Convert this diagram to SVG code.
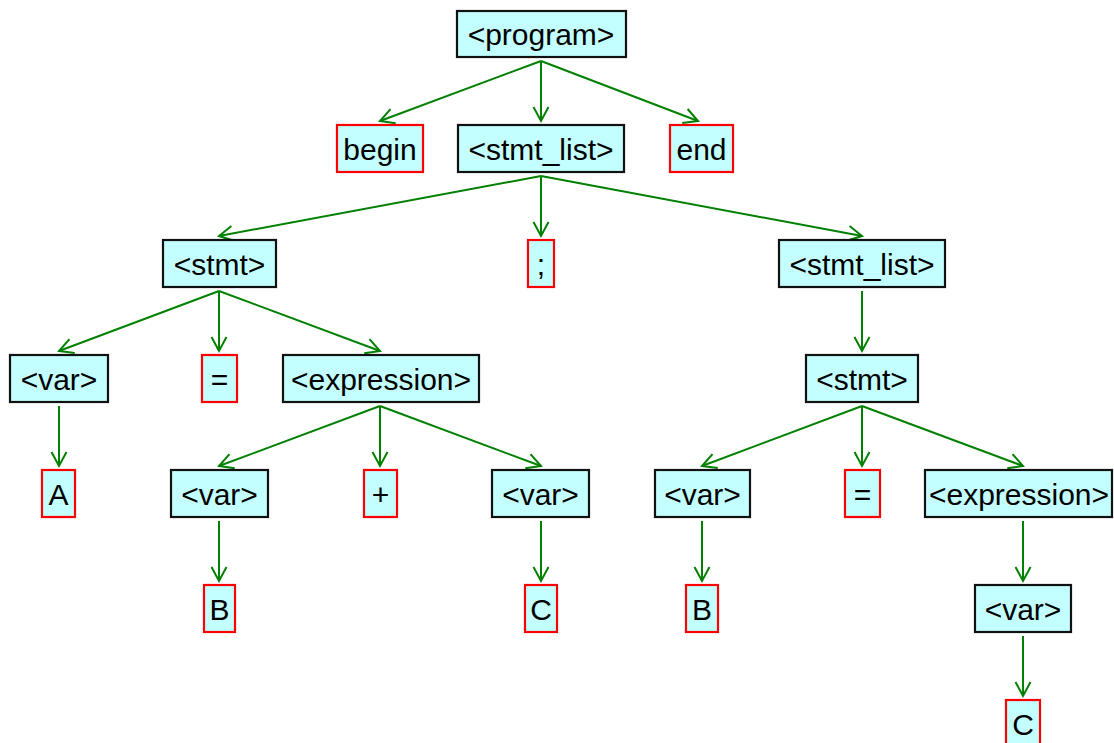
<svg xmlns="http://www.w3.org/2000/svg" width="1114" height="743" viewBox="0 0 1114 743">
  <style>
    .box rect { fill: #c4ffff; stroke-width: 2.2; }
    .nt rect { stroke: #111; }
    .t rect { stroke: #ff0000; }
    .box text { font-family: "Liberation Sans", Arial, sans-serif; font-size: 30px; fill: #000; text-anchor: middle; }
    #edges line { stroke: #008000; stroke-width: 2; marker-end: url(#arrow); }
  </style>
  <defs>
    <marker id="arrow" markerUnits="userSpaceOnUse" markerWidth="20" markerHeight="20" viewBox="-16 -10 20 20" refX="0" refY="0" orient="auto">
      <path d="M-14,-7.5 L0,0 L-14,7.5" fill="none" stroke="#008000" stroke-width="2"/>
    </marker>
  </defs>
  <rect width="1114" height="743" fill="#ffffff"/>

  <g id="edges">
    <!-- program -->
    <line x1="541" y1="61" x2="380" y2="121"/>
    <line x1="541" y1="61" x2="541" y2="121"/>
    <line x1="541" y1="61" x2="698" y2="121"/>
    <!-- stmt_list -->
    <line x1="541" y1="176" x2="219" y2="236"/>
    <line x1="541" y1="176" x2="541" y2="236"/>
    <line x1="541" y1="176" x2="862" y2="236"/>
    <!-- stmt (left) -->
    <line x1="219" y1="291" x2="59" y2="351"/>
    <line x1="219" y1="291" x2="219" y2="351"/>
    <line x1="219" y1="291" x2="380" y2="351"/>
    <!-- stmt_list (right) -->
    <line x1="862" y1="291" x2="862" y2="351"/>
    <!-- var -> A -->
    <line x1="59" y1="406" x2="59" y2="466"/>
    <!-- expression (left) -->
    <line x1="380" y1="406" x2="219" y2="466"/>
    <line x1="380" y1="406" x2="380" y2="466"/>
    <line x1="380" y1="406" x2="541" y2="466"/>
    <!-- stmt (right) -->
    <line x1="862" y1="406" x2="702" y2="466"/>
    <line x1="862" y1="406" x2="862" y2="466"/>
    <line x1="862" y1="406" x2="1023" y2="466"/>
    <!-- vars -> terminals -->
    <line x1="219" y1="521" x2="219" y2="581"/>
    <line x1="541" y1="521" x2="541" y2="581"/>
    <line x1="702" y1="521" x2="702" y2="581"/>
    <line x1="1023" y1="521" x2="1023" y2="581"/>
    <line x1="1023" y1="636" x2="1023" y2="696"/>
  </g>

  <g id="n-program" class="box nt"><rect x="457" y="11" width="169" height="46"/><text x="541" y="45">&lt;program&gt;</text></g>
  <g id="n-begin" class="box t"><rect x="337" y="125" width="86" height="47"/><text x="380" y="159.5">begin</text></g>
  <g id="n-stmt-list-1" class="box nt"><rect x="458" y="125" width="166" height="47"/><text x="541" y="159.5">&lt;stmt_list&gt;</text></g>
  <g id="n-end" class="box t"><rect x="670" y="125" width="63" height="47"/><text x="701.5" y="159.5">end</text></g>

  <g id="n-stmt-1" class="box nt"><rect x="163" y="240" width="113" height="47"/><text x="219.5" y="274.5">&lt;stmt&gt;</text></g>
  <g id="n-semi" class="box t"><rect x="528" y="240" width="26" height="47"/><text x="541" y="274.5">;</text></g>
  <g id="n-stmt-list-2" class="box nt"><rect x="779" y="240" width="166" height="47"/><text x="862" y="274.5">&lt;stmt_list&gt;</text></g>

  <g id="n-var-1" class="box nt"><rect x="10" y="355" width="98" height="47"/><text x="59" y="389.5">&lt;var&gt;</text></g>
  <g id="n-eq-1" class="box t"><rect x="202" y="355" width="35" height="47"/><text x="219.5" y="389.5">=</text></g>
  <g id="n-expr-1" class="box nt"><rect x="283" y="355" width="196" height="47"/><text x="381" y="389.5">&lt;expression&gt;</text></g>
  <g id="n-stmt-2" class="box nt"><rect x="806" y="355" width="112" height="47"/><text x="862" y="389.5">&lt;stmt&gt;</text></g>

  <g id="n-a" class="box t"><rect x="42" y="470" width="33" height="47"/><text x="58.5" y="504.5">A</text></g>
  <g id="n-var-2" class="box nt"><rect x="171" y="470" width="97" height="47"/><text x="219.5" y="504.5">&lt;var&gt;</text></g>
  <g id="n-plus" class="box t"><rect x="364" y="470" width="33" height="47"/><text x="380.5" y="504.5">+</text></g>
  <g id="n-var-3" class="box nt"><rect x="492" y="470" width="97" height="47"/><text x="540.5" y="504.5">&lt;var&gt;</text></g>
  <g id="n-var-4" class="box nt"><rect x="655" y="470" width="95" height="47"/><text x="702.5" y="504.5">&lt;var&gt;</text></g>
  <g id="n-eq-2" class="box t"><rect x="845" y="470" width="35" height="47"/><text x="862.5" y="504.5">=</text></g>
  <g id="n-expr-2" class="box nt"><rect x="925" y="470" width="187" height="47"/><text x="1019" y="504.5">&lt;expression&gt;</text></g>

  <g id="n-b-1" class="box t"><rect x="204" y="585" width="31" height="47"/><text x="219.5" y="619.5">B</text></g>
  <g id="n-c-1" class="box t"><rect x="525" y="585" width="32" height="47"/><text x="541" y="619.5">C</text></g>
  <g id="n-b-2" class="box t"><rect x="686" y="585" width="32" height="47"/><text x="702" y="619.5">B</text></g>
  <g id="n-var-5" class="box nt"><rect x="975" y="585" width="96" height="47"/><text x="1023" y="619.5">&lt;var&gt;</text></g>

  <g id="n-c-2" class="box t"><rect x="1006" y="700" width="34" height="47"/><text x="1023" y="734.5">C</text></g>
</svg>
